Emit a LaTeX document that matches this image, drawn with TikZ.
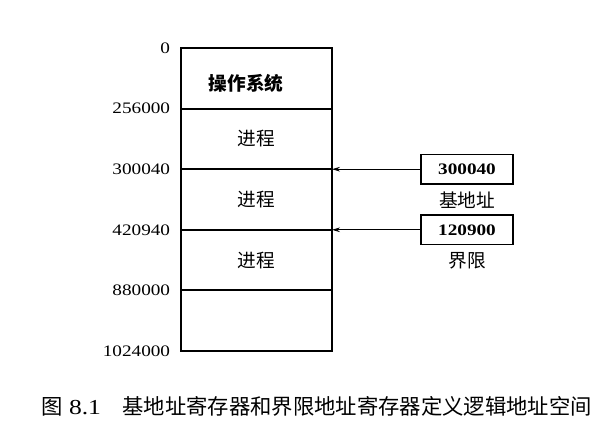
\documentclass[tikz,border=0pt]{standalone}
\usepackage{fontspec}
\setmainfont[FakeStretch=1.2]{Liberation Serif}
\newfontfamily\cjk{Noto Sans CJK SC}
\usetikzlibrary{positioning, arrows.meta}

\begin{document}
\begin{tikzpicture}[
    x=0.75pt, y=-0.75pt, >={Stealth[length=6pt, width=3.5pt]},
    seg/.style={draw, line width=1.5pt, minimum width=113.25pt, minimum height=45.45pt, inner sep=0pt, outer sep=0pt,
        anchor=north, font=\cjk\fontsize{14}{16}\selectfont},
    addr/.style={anchor=east, inner sep=0pt, xshift=-8pt, font=\fontsize{12}{14}\selectfont},
    reg/.style={draw, line width=1.4pt, minimum width=69pt, minimum height=22pt, inner sep=0pt, outer sep=0pt,
        font=\bfseries\fontsize{12}{14}\selectfont},
    tag/.style={font=\cjk\fontsize{14}{16}\selectfont}
]
    \useasboundingbox (0,0) rectangle (613,431);

    % memory
    \node[seg, anchor=north west] (os) at (181,48) {};
    \node[seg] (p1) at (os.south) {进程};
    \node[seg] (p2) at (p1.south) {进程};
    \node[seg] (p3) at (p2.south) {进程};
    \node[seg] (free) at (p3.south) {};
    \node[tag, font=\cjk\bfseries\fontsize{14}{16}\selectfont] (ostext) at (246,83) {操作系统};

    % addresses
    \node[addr] (a0) at (os.north west) {0};
    \node[addr] (a1) at (os.south west) {256000};
    \node[addr] (a2) at (p1.south west) {300040};
    \node[addr] (a3) at (p2.south west) {420940};
    \node[addr] (a4) at (p3.south west) {880000};
    \node[addr] (a5) at (free.south west) {1024000};

    % registers
    \node[reg] (base) at (p1.south east -| 467,0) {300040};
    \node[tag] (basetag) at (467,200) {基地址};
    \node[reg] (limit) at (p2.south east -| 467,0) {120900};
    \node[tag] (limittag) at (467,261) {界限};

    \draw[->, line width=0.6pt] (base.west) -- (p1.south east);
    \draw[->, line width=0.6pt] (limit.west) -- (p2.south east);

    % caption
    \node[anchor=west, inner sep=0pt, font=\fontsize{16}{18}\selectfont] (cap) at (41,406)
        {{\cjk 图} 8.1\quad{\cjk 基地址寄存器和界限地址寄存器定义逻辑地址空间}};
\end{tikzpicture}
\end{document}
